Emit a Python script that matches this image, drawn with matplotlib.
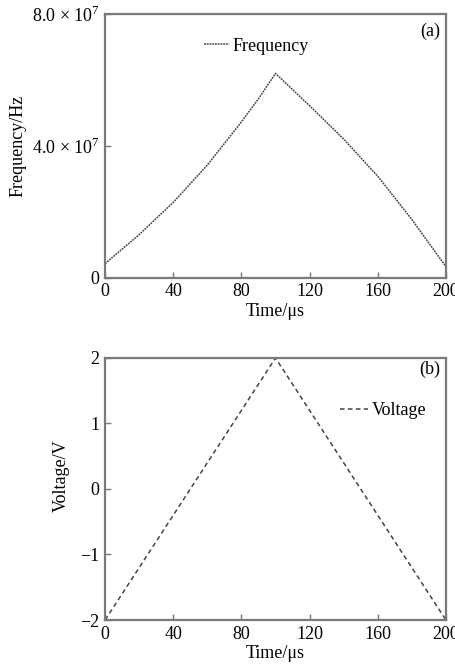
import matplotlib
matplotlib.use("Agg")
import matplotlib.pyplot as plt

plt.rcParams['font.family'] = ['Liberation Serif', 'DejaVu Serif']
plt.rcParams['mathtext.fontset'] = 'custom'
plt.rcParams['mathtext.rm'] = 'Liberation Serif'
plt.rcParams['font.size'] = 13

# (a) frequency
t_freq = [0, 20, 40, 60, 80, 90, 100, 120, 140, 160, 180, 200]
freq = [0.43e7, 1.31e7, 2.29e7, 3.42e7, 4.73e7, 5.43e7, 6.2e7,
        5.22e7, 4.21e7, 3.08e7, 1.77e7, 0.34e7]

# (b) voltage
t_volt = [0, 100, 200]
volt = [-2, 2, -2]

xticks = [0, 40, 80, 120, 160, 200]
freq_ticks = [0, 4e7, 8e7]
freq_labels = ['0', r'4.0 $\times$ 10$^7$', r'8.0 $\times$ 10$^7$']
volt_ticks = [-2, -1, 0, 1, 2]

spine_col = '#7a7a7a'
line_col = '#444444'

fig = plt.figure(figsize=(4.55, 6.71), dpi=100)
ax1 = fig.add_axes([0.231, 0.586, 0.749, 0.393])
ax2 = fig.add_axes([0.231, 0.076, 0.749, 0.3905])

def style(ax):
    for s in ax.spines.values():
        s.set_color(spine_col)
        s.set_linewidth(1.6)
    ax.tick_params(direction='in', length=4, width=1, color=spine_col,
                   top=False, right=False, pad=4, labelsize=13)

# top panel
ax1.plot(t_freq, freq, color=line_col, lw=1.1, ls=(0, (1.2, 0.6)), label='Frequency')
ax1.set_xlim(0, 200)
ax1.set_ylim(0, 8e7)
ax1.set_xticks(xticks)
ax1.set_yticks(freq_ticks)
ax1.set_yticklabels(freq_labels)
ax1.set_xlabel('Time/μs', labelpad=2)
ax1.set_ylabel('Frequency/Hz')
ax1.yaxis.set_label_coords(-0.232, 0.5)
ax1.text(0.982, 0.936, '(a)', transform=ax1.transAxes, ha='right', va='center')
ax1.legend(loc='center left', bbox_to_anchor=(0.29, 0.878), frameon=False,
           borderpad=0, borderaxespad=0, handlelength=1.4, handletextpad=0.2)
style(ax1)

# bottom panel
ax2.plot(t_volt, volt, color=line_col, lw=1.1, ls=(0, (3, 2.2)), label='Voltage')
ax2.set_xlim(0, 200)
ax2.set_ylim(-2, 2)
ax2.set_xticks(xticks)
ax2.set_yticks(volt_ticks)
ax2.set_xlabel('Time/μs', labelpad=2)
ax2.set_ylabel('Voltage/V')
ax2.yaxis.set_label_coords(-0.105, 0.55)
ax2.text(0.982, 0.958, '(b)', transform=ax2.transAxes, ha='right', va='center')
ax2.legend(loc='center left', bbox_to_anchor=(0.689, 0.80), frameon=False,
           borderpad=0, borderaxespad=0, handlelength=1.55, handletextpad=0.2)
style(ax2)

fig.savefig('out.png', dpi=100)
